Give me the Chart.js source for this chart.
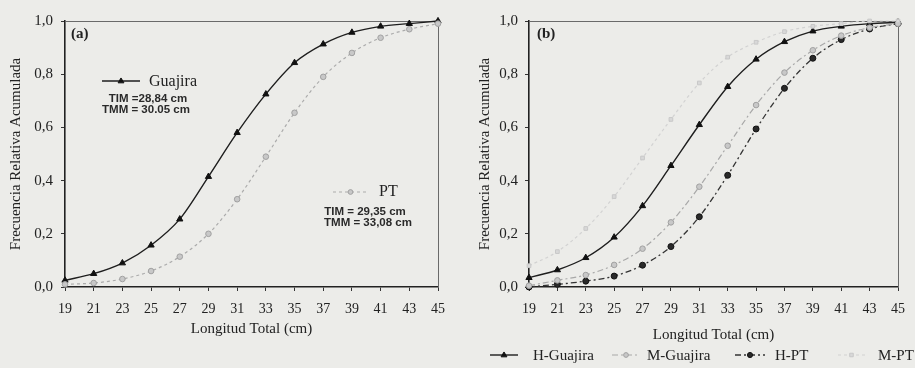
<!DOCTYPE html>
<html>
<head>
<meta charset="utf-8">
<script src="https://cdn.jsdelivr.net/npm/chart.js@4.4.1/dist/chart.umd.min.js"></script>
<style>
  html, body { margin: 0; padding: 0; background: #ecece9; }
  #wrap { position: relative; width: 915px; height: 368px; overflow: hidden; }
  #wrap canvas { position: absolute; top: 0; }
  #ca { left: 0; }
  #cb { left: 455px; }
</style>
</head>
<body>
<div id="wrap">
  <canvas id="ca" width="455" height="368"></canvas>
  <canvas id="cb" width="460" height="368"></canvas>
</div>
<script>
// Longitud total (cm) - x categories
const LENGTHS = [19, 21, 23, 25, 27, 29, 31, 33, 35, 37, 39, 41, 43, 45];
const Y_TICKS = [0, 0.2, 0.4, 0.6, 0.8, 1.0];

// panel (a)
const A_GUAJIRA = [0.025, 0.05, 0.09, 0.157, 0.255, 0.415, 0.58, 0.725, 0.843, 0.913, 0.957, 0.98, 0.99, 1.0];
const A_PT      = [0.01, 0.015, 0.03, 0.06, 0.114, 0.2, 0.33, 0.49, 0.655, 0.79, 0.88, 0.937, 0.969, 0.99];

// panel (b)
const B_H_GUAJIRA = [0.035, 0.064, 0.11, 0.187, 0.305, 0.456, 0.61, 0.753, 0.856, 0.922, 0.962, 0.98, 0.99, 0.995];
const B_M_GUAJIRA = [0.005, 0.025, 0.045, 0.083, 0.144, 0.243, 0.377, 0.531, 0.684, 0.806, 0.89, 0.945, 0.975, 0.99];
const B_H_PT      = [0.0, 0.01, 0.022, 0.041, 0.082, 0.152, 0.264, 0.42, 0.594, 0.747, 0.86, 0.93, 0.97, 0.99];
const B_M_PT      = [0.08, 0.133, 0.22, 0.34, 0.485, 0.63, 0.767, 0.864, 0.92, 0.96, 0.98, 0.99, 1.0, 1.0];

const SERIF = "'Liberation Serif', 'DejaVu Serif', serif";
const SANS = "'Liberation Sans', Arial, sans-serif";
const INK = '#222';

function fmtComma(v) {
  return Number(v).toFixed(1).replace('.', ',');
}

function lineDs(label, data, st) {
  return {
    label: label,
    data: data,
    borderColor: st.line,
    borderWidth: st.width || 1.3,
    borderDash: st.dash || [],
    pointStyle: st.marker,
    pointRadius: st.radius || 3,
    pointBackgroundColor: st.fill,
    pointBorderColor: st.edge,
    pointBorderWidth: 1,
    tension: 0.4,
    cubicInterpolationMode: 'monotone',
    fill: false,
    clip: false,
  };
}

const STYLE_H = { line: '#1e1e1e', marker: 'triangle', fill: '#111', edge: '#111', radius: 3.6, width: 1.4 };
const STYLE_PT = { line: '#ababab', marker: 'circle', fill: '#c8c8c8', edge: '#a0a0a0', dash: [3, 3], radius: 2.8, width: 1.2 };
const STYLE_MG = { line: '#a8a8a8', marker: 'circle', fill: '#c8c8c8', edge: '#a0a0a0', dash: [6, 3, 2, 3], radius: 2.8, width: 1.2 };
const STYLE_HPT = { line: '#333', marker: 'circle', fill: '#2a2a2a', edge: '#111', dash: [6, 3, 2, 3], radius: 3, width: 1.3 };
const STYLE_MPT = { line: '#d2d2d2', marker: 'rect', fill: '#d8d8d8', edge: '#c8c8c8', dash: [3, 3], radius: 2.6, width: 1.2 };

// small marker painter for the in-plot legends
function paintMarker(ctx, style, r, x, y) {
  ctx.beginPath();
  if (style === 'triangle') {
    ctx.moveTo(x, y - r);
    ctx.lineTo(x + r * 0.95, y + r * 0.6);
    ctx.lineTo(x - r * 0.95, y + r * 0.6);
    ctx.closePath();
  } else if (style === 'rect') {
    ctx.rect(x - r * 0.8, y - r * 0.8, r * 1.6, r * 1.6);
  } else {
    ctx.arc(x, y, r, 0, Math.PI * 2);
  }
  ctx.fill();
  ctx.stroke();
}

const notesPlugin = {
  id: 'notes',
  afterDraw(chart, args, opts) {
    const ctx = chart.ctx;
    (opts.samples || []).forEach(function (s) {
      const ds = chart.data.datasets[s.dataset];
      ctx.save();
      ctx.strokeStyle = ds.borderColor;
      ctx.lineWidth = ds.borderWidth;
      ctx.setLineDash(ds.borderDash || []);
      ctx.beginPath();
      ctx.moveTo(s.x1, s.y);
      ctx.lineTo(s.x2, s.y);
      ctx.stroke();
      ctx.setLineDash([]);
      ctx.fillStyle = ds.pointBackgroundColor;
      ctx.strokeStyle = ds.pointBorderColor;
      ctx.lineWidth = 1;
      paintMarker(ctx, ds.pointStyle, ds.pointRadius * 0.85, (s.x1 + s.x2) / 2, s.y);
      ctx.restore();
    });
    (opts.texts || []).forEach(function (t) {
      ctx.save();
      ctx.font = t.font;
      ctx.fillStyle = t.color || INK;
      ctx.textAlign = t.align || 'left';
      ctx.textBaseline = 'middle';
      ctx.fillText(t.text, t.x, t.y);
      ctx.restore();
    });
  }
};

const framePlugin = {
  id: 'frame',
  beforeDatasetsDraw(chart) {
    const a = chart.chartArea;
    const ctx = chart.ctx;
    ctx.save();
    ctx.strokeStyle = '#6a6a6a';
    ctx.lineWidth = 1;
    ctx.beginPath();
    ctx.moveTo(a.left, a.top + 0.5);
    ctx.lineTo(a.right + 0.5, a.top + 0.5);
    ctx.lineTo(a.right + 0.5, a.bottom);
    ctx.stroke();
    ctx.restore();
  }
};

function makeOptions(cfg) {
  return {
    responsive: false,
    devicePixelRatio: 1,
    animation: false,
    layout: { padding: { left: 0, right: cfg.padRight, top: 21, bottom: 0 } },
    plugins: {
      legend: { display: false },
      tooltip: { enabled: false },
      notes: cfg.notes,
    },
    scales: {
      x: {
        type: 'category',
        offset: false,
        afterFit: function (s) { s.height = 81; },
        border: { display: true, color: '#222', width: 1.6 },
        grid: { display: true, drawOnChartArea: false, drawTicks: true, tickLength: 4, color: '#333' },
        ticks: {
          autoSkip: false,
          maxRotation: 0,
          padding: 10,
          color: INK,
          font: { family: SERIF, size: 14 },
        },
        title: {
          display: true,
          text: 'Longitud Total (cm)',
          color: INK,
          font: { family: SERIF, size: 15 },
          padding: { top: 0, bottom: cfg.xTitlePad },
        },
      },
      y: {
        min: 0,
        max: 1,
        afterFit: function (s) { s.width = cfg.yWidth; },
        afterBuildTicks: function (s) { s.ticks = Y_TICKS.map(function (v) { return { value: v }; }); },
        border: { display: true, color: '#222', width: 1.6 },
        grid: { display: true, drawOnChartArea: false, drawTicks: true, tickLength: 4, color: '#333' },
        ticks: {
          padding: cfg.yTickPad,
          color: INK,
          font: { family: SERIF, size: 15 },
          callback: function (v) { return fmtComma(v); },
        },
        title: {
          display: true,
          text: 'Frecuencia Relativa Acumulada',
          color: INK,
          font: { family: SERIF, size: 15 },
          padding: { top: cfg.yTitlePad, bottom: 0 },
        },
      },
    },
  };
}

const labels = LENGTHS.map(String);

// panel (a)
new Chart(document.getElementById('ca'), {
  type: 'line',
  data: {
    labels: labels,
    datasets: [
      lineDs('PT', A_PT, STYLE_PT),
      lineDs('Guajira', A_GUAJIRA, STYLE_H),
    ],
  },
  options: makeOptions({
    padRight: 7, yWidth: 65, yTickPad: 8, yTitlePad: 7, xTitlePad: 30,
    notes: {
      samples: [
        { dataset: 1, x1: 102, x2: 140, y: 81 },
        { dataset: 0, x1: 333, x2: 368, y: 192 },
      ],
      texts: [
        { text: '(a)', x: 71, y: 34, font: 'bold 15px ' + SERIF },
        { text: 'Guajira', x: 149, y: 82, font: '16px ' + SERIF },
        { text: 'TIM =28,84 cm', x: 148, y: 99, align: 'center', font: 'bold 11.5px ' + SANS, color: '#2a2a2a' },
        { text: 'TMM = 30.05 cm', x: 146, y: 110, align: 'center', font: 'bold 11.5px ' + SANS, color: '#2a2a2a' },
        { text: 'PT', x: 379, y: 192, font: '16px ' + SERIF },
        { text: 'TIM = 29,35 cm', x: 365, y: 212, align: 'center', font: 'bold 11.5px ' + SANS, color: '#2a2a2a' },
        { text: 'TMM = 33,08 cm', x: 368, y: 223, align: 'center', font: 'bold 11.5px ' + SANS, color: '#2a2a2a' },
      ],
    },
  }),
  plugins: [framePlugin, notesPlugin],
});

// panel (b)
new Chart(document.getElementById('cb'), {
  type: 'line',
  data: {
    labels: labels,
    datasets: [
      lineDs('M-PT', B_M_PT, STYLE_MPT),
      lineDs('M-Guajira', B_M_GUAJIRA, STYLE_MG),
      lineDs('H-PT', B_H_PT, STYLE_HPT),
      lineDs('H-Guajira', B_H_GUAJIRA, STYLE_H),
    ],
  },
  options: makeOptions({
    padRight: 10, yWidth: 74, yTickPad: 7, yTitlePad: 21, xTitlePad: 24,
    notes: {
      samples: [
        { dataset: 3, x1: 35, x2: 63, y: 355 },
        { dataset: 1, x1: 157, x2: 185, y: 355 },
        { dataset: 2, x1: 280, x2: 310, y: 355 },
        { dataset: 0, x1: 383, x2: 410, y: 355 },
      ],
      texts: [
        { text: '(b)', x: 82, y: 34, font: 'bold 15px ' + SERIF },
        { text: 'H-Guajira', x: 78, y: 356, font: '15px ' + SERIF },
        { text: 'M-Guajira', x: 192, y: 356, font: '15px ' + SERIF },
        { text: 'H-PT', x: 320, y: 356, font: '15px ' + SERIF },
        { text: 'M-PT', x: 423, y: 356, font: '15px ' + SERIF },
      ],
    },
  }),
  plugins: [framePlugin, notesPlugin],
});
</script>
</body>
</html>
